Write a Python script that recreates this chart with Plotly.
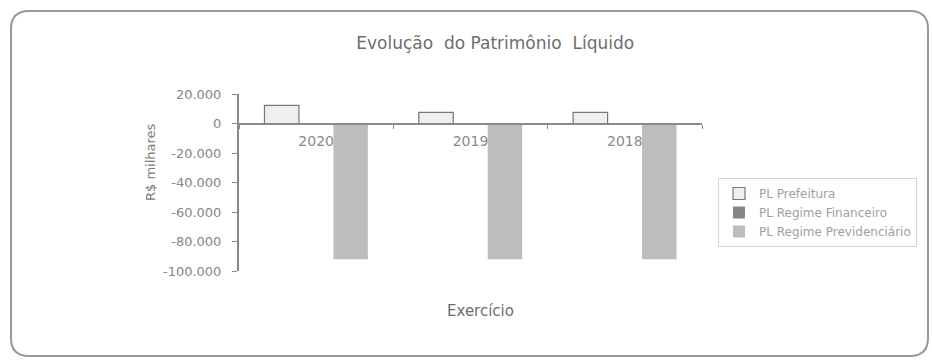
import plotly.graph_objects as go

# ---- data ----
anos = ["2020", "2019", "2018"]
pl_prefeitura = [12300, 7500, 7500]
pl_financeiro = [150, 120, 120]
pl_previdenciario = [-92000, -92000, -92000]
y_ticks = [20000, 0, -20000, -40000, -60000, -80000, -100000]
y_tick_labels = ["20.000", "0", "-20.000", "-40.000", "-60.000", "-80.000", "-100.000"]

W, H = 932, 360
L, R, T, B = 239, 230, 94, 89
PW, PH = W - L - R, H - T - B
FONT = "DejaVu Sans, Verdana, sans-serif"


def px(x):
    return (x - L) / PW


def py(y):
    return (H - B - y) / PH


fig = go.Figure()
fig.add_trace(go.Bar(name="PL Prefeitura", x=anos, y=pl_prefeitura,
                     marker=dict(color="#efefef", line=dict(color="#777777", width=1.2))))
fig.add_trace(go.Bar(name="PL Regime Financeiro", x=anos, y=pl_financeiro,
                     marker=dict(color="#858585", line=dict(color="#858585", width=0))))
fig.add_trace(go.Bar(name="PL Regime Previdenciário", x=anos, y=pl_previdenciario,
                     marker=dict(color="#bdbdbd", line=dict(color="#bdbdbd", width=0))))

ymin, ymax = -100000, 20000
zero_pos = (0 - ymin) / (ymax - ymin)

# rounded frame in paper coords
x0, x1, y0, y1, r = 11, 928, 11, 356, 18
path = (f"M {px(x0 + r)},{py(y0)} L {px(x1 - r)},{py(y0)} "
        f"Q {px(x1)},{py(y0)} {px(x1)},{py(y0 + r)} "
        f"L {px(x1)},{py(y1 - r)} Q {px(x1)},{py(y1)} {px(x1 - r)},{py(y1)} "
        f"L {px(x0 + r)},{py(y1)} Q {px(x0)},{py(y1)} {px(x0)},{py(y1 - r)} "
        f"L {px(x0)},{py(y0 + r)} Q {px(x0)},{py(y0)} {px(x0 + r)},{py(y0)} Z")

fig.update_layout(
    width=W, height=H,
    margin=dict(l=L, r=R, t=T, b=B, pad=0),
    paper_bgcolor="white", plot_bgcolor="white",
    font=dict(family=FONT, color="#777777"),
    barmode="group", bargap=0.33, bargroupgap=0,
    showlegend=True,
    legend=dict(x=px(718), y=py(178), xanchor="left", yanchor="top",
                bordercolor="#d4d4d4", borderwidth=1,
                font=dict(size=12, color="#a0a0a0"),
                itemwidth=30, traceorder="normal", tracegroupgap=0),
    title=dict(text="Evolução  do Patrimônio  Líquido", x=px(485), xanchor="center",
               y=1 - 43 / H, yanchor="middle",
               font=dict(size=17, color="#6e6e6e")),
    xaxis=dict(anchor="free", position=zero_pos, showline=True, linecolor="#8a8a8a",
               linewidth=2, ticks="outside", ticklen=4, tickcolor="#8a8a8a",
               tickson="boundaries", tickfont=dict(size=14, color="#8a8a8a"),
               ticklabelstandoff=5,
               showgrid=False, zeroline=False),
    yaxis=dict(range=[ymin, ymax], tickvals=y_ticks, ticktext=y_tick_labels,
               showline=True, linecolor="#8a8a8a", linewidth=2,
               ticks="outside", ticklen=5, tickcolor="#8a8a8a",
               tickfont=dict(size=13, color="#858585"),
               ticklabelstandoff=8,
               showgrid=False, zeroline=False),
    shapes=[dict(type="path", xref="paper", yref="paper", path=path,
                 line=dict(color="#999999", width=2), layer="below")],
    annotations=[
        dict(text="R$ milhares", x=px(150), y=py(162), xref="paper", yref="paper",
             xanchor="center", yanchor="middle",
             textangle=-90, showarrow=False, font=dict(size=13, color="#7a7a7a")),
        dict(text="Exercício", x=px(480), y=py(311), xref="paper", yref="paper",
             xanchor="center", yanchor="middle",
             showarrow=False, font=dict(size=15, color="#6e6e6e")),
    ],
)

fig.write_html("out.html")
